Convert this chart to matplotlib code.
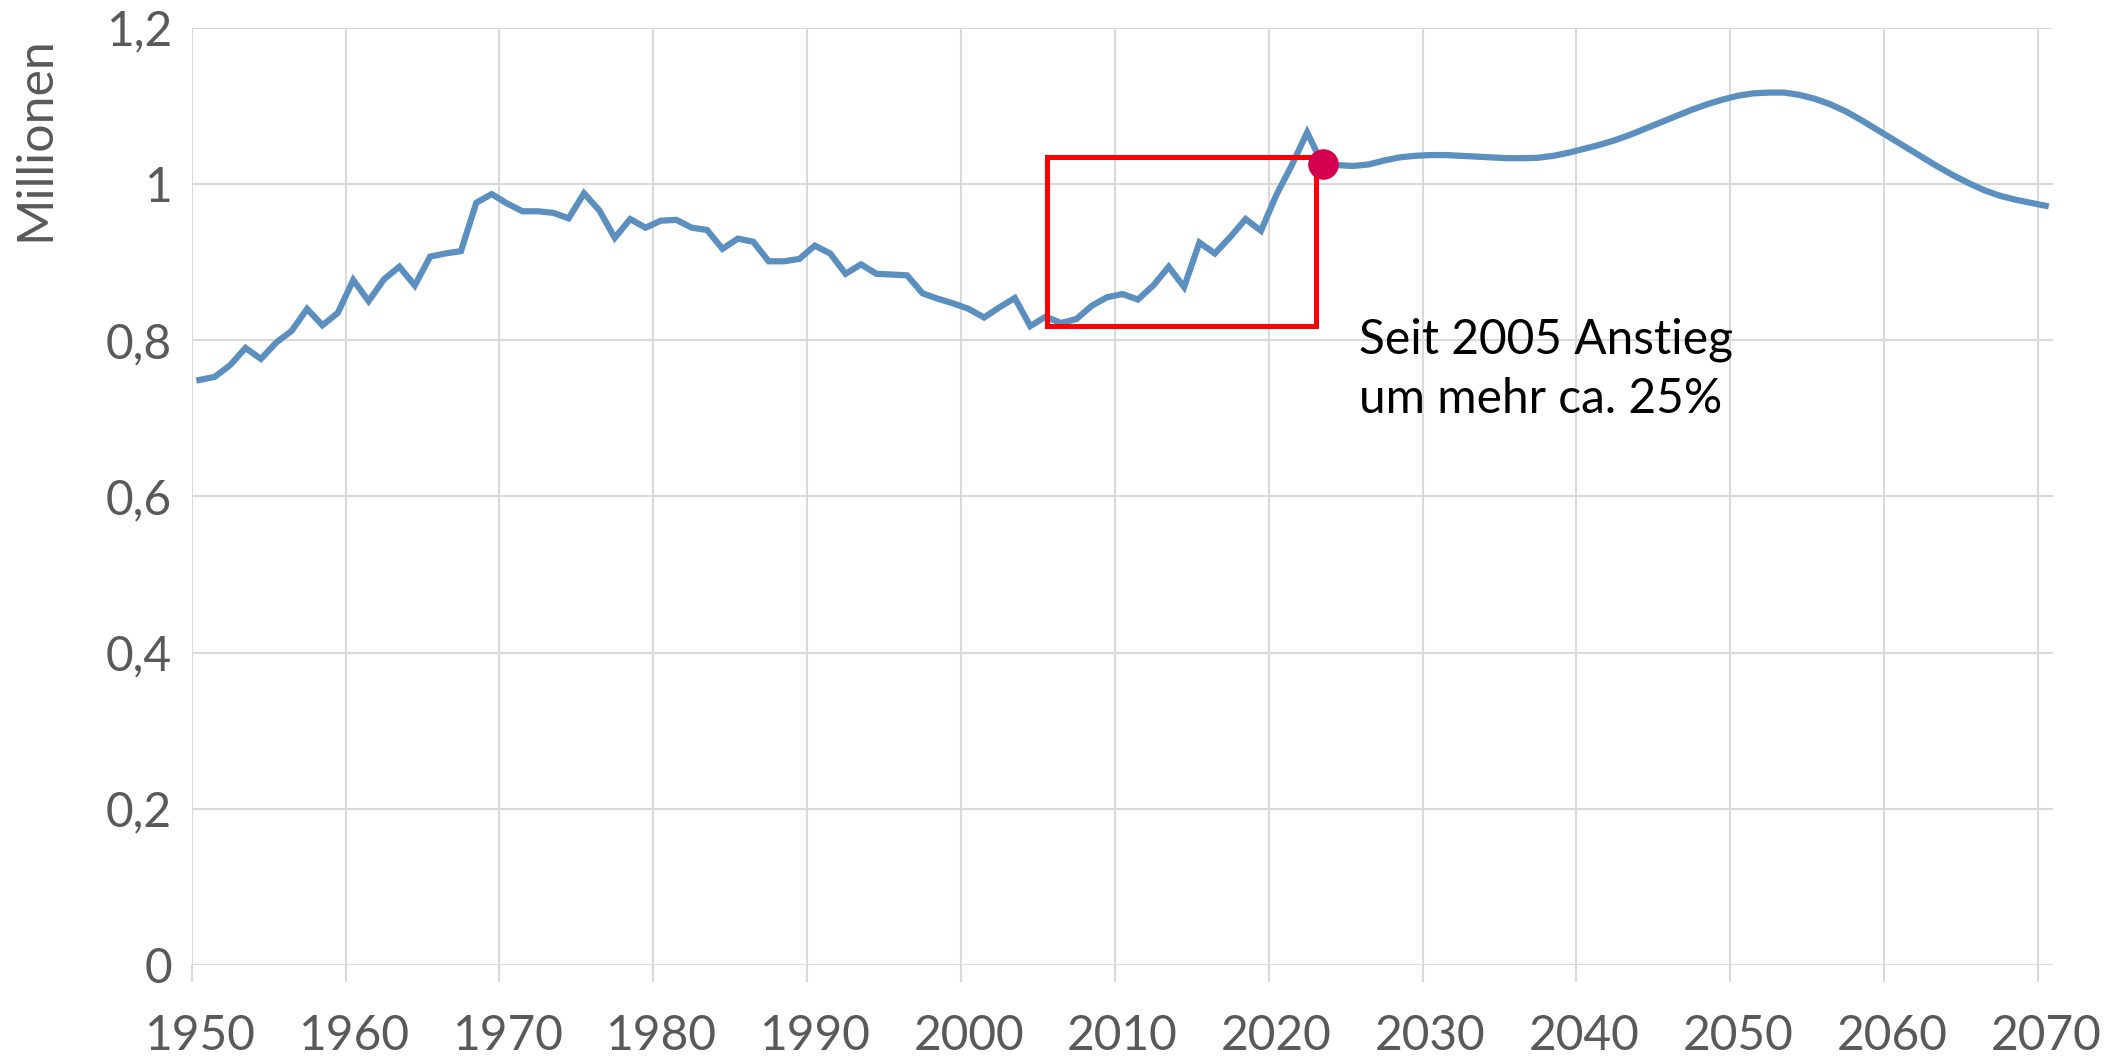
import numpy as np
import matplotlib
matplotlib.use('agg')
import matplotlib.pyplot as plt
from matplotlib.patches import Rectangle
from matplotlib.ticker import FixedLocator, FixedFormatter

plt.rcParams['font.family'] = ['Lato', 'DejaVu Sans']

# Sterbefälle in Millionen, 1950-2023 (Ist) und 2024-2070 (Vorausberechnung)
years = np.arange(1950, 2071)
deaths = [
    0.749, 0.753, 0.768, 0.790, 0.776, 0.797, 0.812, 0.840, 0.819, 0.835,  # 1950-59
    0.877, 0.850, 0.878, 0.894, 0.870, 0.907, 0.911, 0.914, 0.976, 0.987,  # 1960-69
    0.975, 0.965, 0.965, 0.963, 0.956, 0.988, 0.966, 0.931, 0.955, 0.944,  # 1970-79
    0.953, 0.954, 0.944, 0.941, 0.917, 0.930, 0.926, 0.901, 0.901, 0.904,  # 1980-89
    0.921, 0.911, 0.885, 0.897, 0.885, 0.884, 0.883, 0.860, 0.853, 0.847,  # 1990-99
    0.840, 0.829, 0.842, 0.854, 0.818, 0.830, 0.822, 0.827, 0.844, 0.855,  # 2000-09
    0.859, 0.852, 0.870, 0.894, 0.868, 0.925, 0.911, 0.932, 0.955, 0.940,  # 2010-19
    0.986, 1.024, 1.066, 1.025, 1.024, 1.023, 1.025, 1.030, 1.034, 1.036,  # 2020-29
    1.037, 1.037, 1.036, 1.035, 1.034, 1.033, 1.033, 1.0335, 1.036, 1.040,  # 2030-39
    1.045, 1.050, 1.056, 1.063, 1.071, 1.079, 1.087, 1.095, 1.102, 1.108,  # 2040-49
    1.113, 1.116, 1.117, 1.117, 1.114, 1.109, 1.102, 1.093, 1.082, 1.070,  # 2050-59
    1.058, 1.046, 1.034, 1.022, 1.011, 1.001, 0.992, 0.985, 0.980, 0.976,  # 2060-69
    0.972,                                                                  # 2070
]
highlight_year = 2023
yticks = [0, 0.2, 0.4, 0.6, 0.8, 1.0, 1.2]
ytick_labels = ['0', '0,2', '0,4', '0,6', '0,8', '1', '1,2']
decades = list(range(1950, 2071, 10))
note = 'Seit 2005 Anstieg\num mehr ca. 25%'

# box around 2005-2023
box_x0, box_x1 = 2005.6, 2023.1
box_y0, box_y1 = 0.818, 1.035

grid_c = '#D9D9D9'
text_c = '#595959'
line_c = '#5B8FC0'

fig = plt.figure(figsize=(21.11, 10.59), dpi=100)
ax = fig.add_axes([0.0908, 0.0888, 0.9727 - 0.0908, 0.9738 - 0.0888])

# Excel-style categories: points sit in the middle of each year slot
x = years + 0.5
vals = np.array(deaths)
ax.plot(x, vals, color=line_c, lw=4.5, solid_joinstyle='miter', zorder=3)
i = list(years).index(highlight_year)
ax.plot(x[i], vals[i], 'o', color='#D4004F', ms=21, zorder=5)

ax.add_patch(Rectangle((box_x0, box_y0), box_x1 - box_x0, box_y1 - box_y0,
                       fill=False, edgecolor='#FF0000', lw=3.6, zorder=4))
ax.text(2025.9, 0.829, note, fontsize=34.5, color='black', va='top', ha='left',
        linespacing=1.42, zorder=6)

ax.set_xlim(1950, 2071)
ax.set_ylim(0, 1.2)

ax.xaxis.set_major_locator(FixedLocator(decades))
ax.xaxis.set_major_formatter(FixedFormatter([''] * len(decades)))
ax.xaxis.set_minor_locator(FixedLocator([d + 0.5 for d in decades]))
ax.xaxis.set_minor_formatter(FixedFormatter([str(d) for d in decades]))
ax.tick_params(axis='x', which='major', length=12.5, width=1.5, color=grid_c, direction='out')
ax.tick_params(axis='x', which='minor', length=0, pad=35, labelsize=34.5, labelcolor=text_c)

ax.set_yticks(yticks)
ax.set_yticklabels(ytick_labels)
ax.tick_params(axis='y', length=0, pad=14, labelsize=34.5, labelcolor=text_c)

ax.grid(True, which='major', color=grid_c, lw=1.5, zorder=0)
ax.set_axisbelow(True)
for s in ['top', 'right', 'left', 'bottom']:
    ax.spines[s].set_visible(False)
ax.axhline(0, color=grid_c, lw=1.5, zorder=1)

fig.text(35 / 2111, 1 - 139 / 1059, 'Millionen', rotation=90, ha='center', va='center',
         fontsize=36, color=text_c)

fig.savefig('out.png', dpi=100)
